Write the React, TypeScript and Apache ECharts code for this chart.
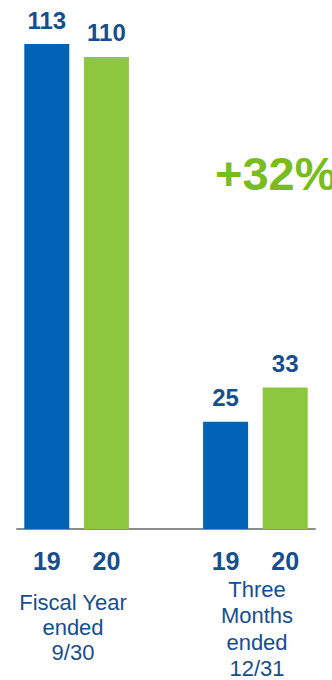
import React, { useEffect, useRef } from "react";
import * as echarts from "echarts";

const categories = ["19", "20", "", "19", "20"];
const values: (number | null)[] = [113, 110, null, 25, 33];
const barColors = ["#0063B5", "#8DC63F", "#0063B5", "#0063B5", "#8DC63F"];
const groupLabels = ["Fiscal Year\nended\n9/30", "Three\nMonths\nended\n12/31"];
const growthLabel = "+32%";

const LABEL_BLUE = "#174E8C";
const FONT = "'Liberation Sans', Arial, sans-serif";

export default function App() {
  const ref = useRef<HTMLDivElement>(null);
  useEffect(() => {
    document.body.style.margin = "0";
    const chart = echarts.init(ref.current!, undefined, { renderer: "svg" });
    chart.setOption({
      animation: false,
      backgroundColor: "#ffffff",
      grid: { left: 17, right: 17, top: 14, bottom: 151, containLabel: false },
      xAxis: {
        type: "category",
        data: categories,
        axisLine: { show: true, lineStyle: { color: "#8C8C8C", width: 2 } },
        axisTick: { show: false },
        axisLabel: {
          margin: 19,
          fontSize: 25,
          fontWeight: "bold",
          color: LABEL_BLUE,
          fontFamily: FONT,
        },
      },
      yAxis: {
        type: "value",
        min: 0,
        max: 120,
        show: false,
        splitLine: { show: false },
      },
      series: [
        {
          type: "bar",
          barWidth: 45,
          data: values.map((v, i) => ({
            value: v,
            itemStyle: { color: barColors[i] },
          })),
          label: {
            show: true,
            position: "top",
            distance: 12,
            fontSize: 24,
            fontWeight: "bold",
            color: LABEL_BLUE,
            fontFamily: FONT,
          },
        },
      ],
      graphic: [
        {
          type: "text",
          left: 215,
          top: 150,
          style: {
            text: growthLabel,
            fontSize: 47,
            fontWeight: "bold",
            fill: "#79BC1E",
            fontFamily: FONT,
          },
        },
        {
          type: "text",
          x: 73,
          y: 590,
          style: {
            text: groupLabels[0],
            fontSize: 22,
            lineHeight: 25,
            textAlign: "center",
            fill: LABEL_BLUE,
            fontFamily: FONT,
          },
        },
        {
          type: "text",
          x: 257,
          y: 576,
          style: {
            text: groupLabels[1],
            fontSize: 22,
            lineHeight: 26.5,
            textAlign: "center",
            fill: LABEL_BLUE,
            fontFamily: FONT,
          },
        },
      ],
    });
    return () => chart.dispose();
  }, []);
  return <div ref={ref} style={{ width: 332, height: 680 }} />;
}
